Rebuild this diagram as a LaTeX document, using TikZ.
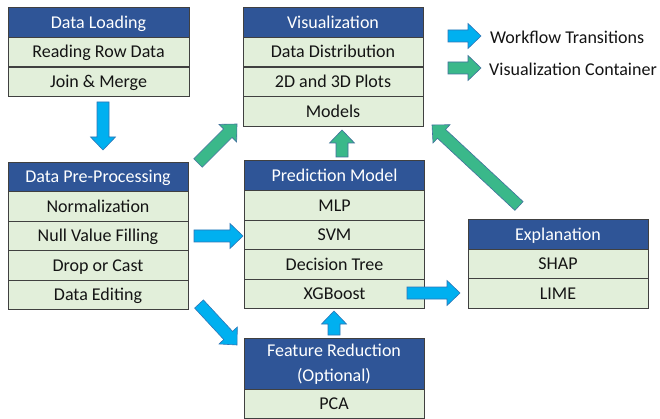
\documentclass[tikz,border=0pt]{standalone}
\usepackage{fontspec}
\setmainfont{Carlito}
\usetikzlibrary{calc}
\definecolor{hdrblue}{RGB}{47,85,151}
\definecolor{rowgreen}{RGB}{226,239,218}
\definecolor{flowblue}{RGB}{0,176,240}
\definecolor{flowedge}{RGB}{46,117,182}
\definecolor{visgreen}{RGB}{58,184,138}
\definecolor{visedge}{RGB}{65,113,156}
\definecolor{boxedge}{RGB}{64,64,64}
\definecolor{txt}{RGB}{20,20,20}
% block arrow from #1 to #2 with style #3
\newcommand{\blkarrow}[3]{%
  \coordinate (ba-h) at ($(#2)!13pt!(#1)$);
  \path[#3] ($(#1)!6pt!90:(#2)$) -- ($(ba-h)!6pt!-90:(#1)$) -- ($(ba-h)!12.5pt!-90:(#1)$)
    -- (#2) -- ($(ba-h)!12.5pt!90:(#1)$) -- ($(ba-h)!6pt!90:(#1)$) -- ($(#1)!6pt!-90:(#2)$) -- cycle;}
\begin{document}
\begin{tikzpicture}[x=1pt,y=-1pt,
  hdr/.style={draw=boxedge, line width=0.9pt, fill=hdrblue, text=white, minimum width=180pt,
    minimum height=29.5pt, inner sep=0pt, font=\fontsize{18}{21}\selectfont, align=center,
    text height=11.6pt, text depth=0pt},
  rowbox/.style={draw=boxedge, line width=0.9pt, fill=rowgreen, text=txt, minimum width=180pt,
    minimum height=29.5pt, inner sep=0pt, font=\fontsize{18}{21}\selectfont,
    text height=11.6pt, text depth=0pt},
  flow/.style={fill=flowblue, draw=flowedge, line width=0.6pt},
  visarrow/.style={fill=visgreen, draw=visedge, line width=0.6pt},
  legtext/.style={anchor=west, inner sep=0pt, text=txt, font=\fontsize{18}{21}\selectfont}]
\useasboundingbox (0,0) rectangle (660,419);
\fill[white] (0,0) rectangle (660,419);

% Data Loading
\node[hdr, minimum width=181pt] (dlh) at (98.5,22.5) {Data Loading};
\node[rowbox, minimum width=181pt] (dl1) at (98.5,52) {Reading Row Data};
\node[rowbox, minimum width=181pt] (dl2) at (98.5,82) {Join \& Merge};

% Visualization
\node[hdr] (vh) at (333,22.5) {Visualization};
\node[rowbox] (v1) at (333,52) {Data Distribution};
\node[rowbox] (v2) at (333,82) {2D and 3D Plots};
\node[rowbox] (v3) at (333,111.5) {Models};

% Data Pre-Processing
\node[hdr] (dph) at (98,177) {Data Pre-Processing};
\node[rowbox] (dp1) at (98,206.5) {Normalization};
\node[rowbox] (dp2) at (98,236) {Null Value Filling};
\node[rowbox] (dp3) at (98,265.5) {Drop or Cast};
\node[rowbox] (dp4) at (98,295) {Data Editing};

% Prediction Model
\node[hdr] (pmh) at (334.5,175.5) {Prediction Model};
\node[rowbox] (pm1) at (334.5,205.5) {MLP};
\node[rowbox] (pm2) at (334.5,235) {SVM};
\node[rowbox] (pm3) at (334.5,264.5) {Decision Tree};
\node[rowbox] (pm4) at (334.5,294) {XGBoost};

% Explanation
\node[hdr] (exh) at (558,234.5) {Explanation};
\node[rowbox] (ex1) at (558,264) {SHAP};
\node[rowbox] (ex2) at (558,293.5) {LIME};

% Feature Reduction
\node[hdr, minimum height=51pt, text height=, text depth=, font=\fontsize{18}{25}\selectfont] (frh) at (334,364) {Feature Reduction\\(Optional)};
\node[rowbox] (fr1) at (334,404) {PCA};

% arrow end points
\coordinate (a1s) at (103,102);  \coordinate (a1e) at (103,150);
\coordinate (a2s) at (194,236);  \coordinate (a2e) at (243,236);
\coordinate (a3s) at (407,293);  \coordinate (a3e) at (460,293);
\coordinate (a4s) at (199,304);  \coordinate (a4e) at (237,345);
\coordinate (a5s) at (334,335);  \coordinate (a5e) at (334,311);
\coordinate (g1s) at (198,163);  \coordinate (g1e) at (237,124);
\coordinate (g2s) at (342,157);  \coordinate (g2e) at (342,130);
\coordinate (g3s) at (519,206);  \coordinate (g3e) at (432,125);
\coordinate (l1s) at (448,36);   \coordinate (l1e) at (481,36);
\coordinate (l2s) at (448,68);   \coordinate (l2e) at (481,68);

\blkarrow{a1s}{a1e}{flow}
\blkarrow{a2s}{a2e}{flow}
\blkarrow{a3s}{a3e}{flow}
\blkarrow{a4s}{a4e}{flow}
\blkarrow{a5s}{a5e}{flow}
\blkarrow{g1s}{g1e}{visarrow}
\blkarrow{g2s}{g2e}{visarrow}
\blkarrow{g3s}{g3e}{visarrow}
\blkarrow{l1s}{l1e}{flow}
\blkarrow{l2s}{l2e}{visarrow}

% legend
\node[legtext] (lg1) at (490,37) {Workflow Transitions};
\node[legtext] (lg2) at (489,69) {Visualization Container};
\end{tikzpicture}
\end{document}
